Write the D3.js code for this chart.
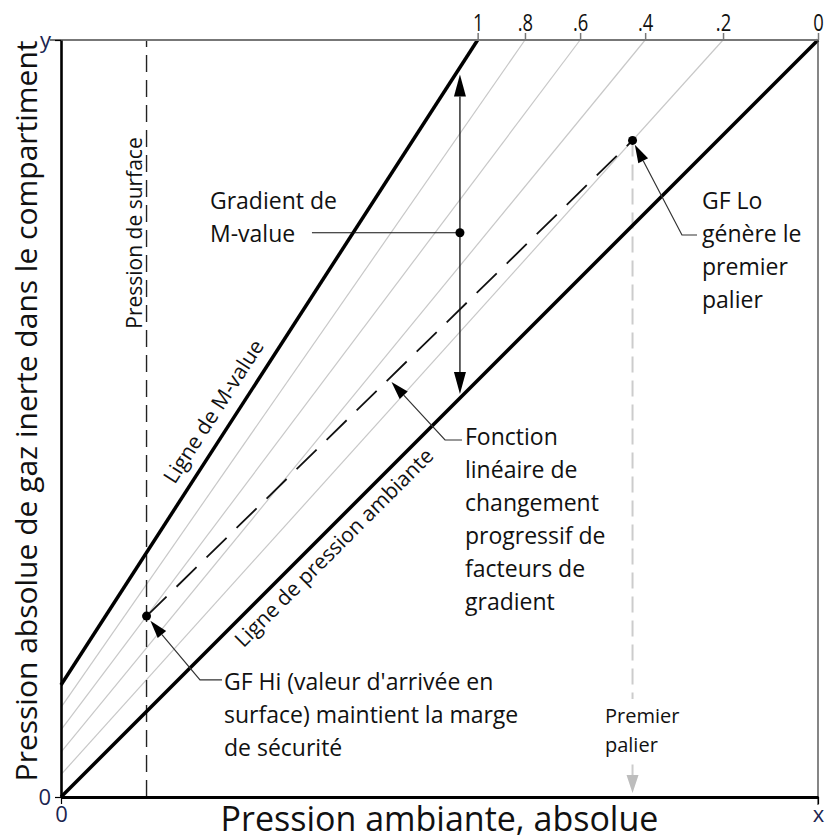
<!DOCTYPE html>
<html><head><meta charset="utf-8">
<script src="https://cdn.jsdelivr.net/npm/d3@7"></script>
<style>
body{margin:0;background:#fff}
svg{display:block}
text{font-family:"Open Sans",sans-serif}
</style>
</head><body>
<svg id="c" width="825" height="840"></svg>
<script>
// ---------------- data ----------------
const gfLevels = [1, 0.8, 0.6, 0.4, 0.2, 0];          // gradient factors shown on top axis
const gfLabels = ["1", ".8", ".6", ".4", ".2", "0"];
const greyLevels = [0.2, 0.4, 0.6, 0.8];              // intermediate GF lines
const mValueIntercept = 0.148;                        // M-value line at x = 0
const mValueSlope = 1.548;                            // M-value line slope
const surfaceX = 0.113;                               // surface pressure
const gfHi = 0.6;
const gfLo = 0.2;
const firstStopX = 0.755;                             // ambient pressure of first stop
const gradientX = 0.527;                              // where M-value gradient is shown
const leftTicks = [0, 1], leftTickLabels = ["0", "y"];
const bottomTicks = [0, 1], bottomTickLabels = ["0", "x"];
const xTitle = "Pression ambiante, absolue";
const yTitle = "Pression absolue de gaz inerte dans le compartiment";
const surfaceText = "Pression de surface";
const mLineText = "Ligne de M-value";
const ambientText = "Ligne de pression ambiante";
const gradientText = ["Gradient de", "M-value"];
const gfHiText = ["GF Hi (valeur d'arrivée en", "surface) maintient la marge", "de sécurité"];
const fonctionText = ["Fonction", "linéaire de", "changement", "progressif de", "facteurs de", "gradient"];
const gfLoText = ["GF Lo", "génère le", "premier", "palier"];
const firstStopText = ["Premier", "palier"];

// ---------------- setup ----------------
const svg = d3.select("#c");
const x = d3.scaleLinear().domain([0, 1]).range([61, 818]);
const y = d3.scaleLinear().domain([0, 1]).range([797, 40]);
const M = v => mValueIntercept + mValueSlope * v;
const gfY = (g, v) => v + g * (M(v) - v);
const topX = g => (1 - g * mValueIntercept) / (1 + g * (mValueSlope - 1));
const line = d3.line().x(d => x(d[0])).y(d => y(d[1]));
const P = d => [x(d[0]), y(d[1])];
const LABEL = "#1b2450";
const LH = 33;

function arrowHead(g, tip, from, len, wid, color) {
  const dx = tip[0] - from[0], dy = tip[1] - from[1];
  const L = Math.hypot(dx, dy), ux = dx / L, uy = dy / L;
  const bx = tip[0] - ux * len, by = tip[1] - uy * len;
  const px = -uy * wid / 2, py = ux * wid / 2;
  g.append("path")
    .attr("d", `M${tip[0]},${tip[1]}L${bx + px},${by + py}L${bx - px},${by - py}Z`)
    .attr("fill", color);
  return [bx, by];
}

// grey GF lines
svg.append("g").selectAll("path").data(greyLevels).join("path")
  .attr("d", g => line([[0, gfY(g, 0)], [topX(g), 1]]))
  .attr("fill", "none").attr("stroke", "#c8c8c8").attr("stroke-width", 1.2);

// surface pressure dashed line
svg.append("path").attr("d", line([[surfaceX, 0], [surfaceX, 1]]))
  .attr("fill", "none").attr("stroke", "#222").attr("stroke-width", 1.4)
  .attr("stroke-dasharray", "17,8");

// points
const hi = [surfaceX, gfY(gfHi, surfaceX)];
const lo = [firstStopX, gfY(gfLo, firstStopX)];

// first stop grey dashed line with arrow
const fs = svg.append("g");
const fsTip = [x(firstStopX), y(0) - 4];
const fsBase = arrowHead(fs, fsTip, [x(firstStopX), y(0) - 100], 18, 12, "#bdbdbd");
fs.insert("path", ":first-child")
  .attr("d", `M${x(lo[0])},${y(lo[1])}L${fsBase[0]},${fsBase[1]}`)
  .attr("stroke", "#cccccc").attr("stroke-width", 2).attr("stroke-dasharray", "16,8").attr("fill", "none");
const fsText = fs.append("g");
firstStopText.forEach((t, i) => {
  fsText.append("text").attr("x", x(0.7186)).attr("y", y(0.0978) + i * 29)
    .attr("font-size", 20).attr("fill", "#111").text(t);
});
const bb = fsText.node().getBBox();
fsText.insert("rect", ":first-child").attr("x", bb.x - 2).attr("y", bb.y - 3)
  .attr("width", bb.width + 4).attr("height", bb.height + 6).attr("fill", "#fff");

// M-value and ambient lines
svg.append("path").attr("d", line([[0, M(0)], [topX(1), 1]]))
  .attr("fill", "none").attr("stroke", "#000").attr("stroke-width", 3.5);
svg.append("path").attr("d", line([[0, 0], [1, 1]]))
  .attr("fill", "none").attr("stroke", "#000").attr("stroke-width", 3.5);

// top axis (gradient factors)
svg.append("line").attr("x1", x(0) - 11).attr("x2", x(1)).attr("y1", y(1)).attr("y2", y(1))
  .attr("stroke", "#777").attr("stroke-width", 2);
const topAxis = d3.axisTop(x).tickValues(gfLevels.map(topX))
  .tickFormat((d, i) => gfLabels[i]).tickSize(7).tickSizeOuter(0).tickPadding(2);
const ta = svg.append("g").attr("transform", `translate(0,${y(1)})`).call(topAxis);
ta.select(".domain").remove();
ta.selectAll(".tick line").attr("stroke", "#777").attr("stroke-width", 1.5);
ta.selectAll(".tick text").attr("font-family", "'Liberation Sans',Arial,sans-serif")
  .attr("font-size", 23).attr("fill", "#111").attr("transform", "scale(0.8,1)");

// right border
svg.append("line").attr("x1", x(1)).attr("x2", x(1)).attr("y1", y(1)).attr("y2", y(0) + 8)
  .attr("stroke", "#444").attr("stroke-width", 1.3);

// left axis
const la = svg.append("g").attr("transform", `translate(${x(0)},0)`)
  .call(d3.axisLeft(y).tickValues(leftTicks).tickFormat((d, i) => leftTickLabels[i]).tickSize(6).tickSizeOuter(0).tickPadding(4));
la.select(".domain").attr("stroke", "#000").attr("stroke-width", 2.6);
la.selectAll(".tick line").attr("stroke", "#000").attr("stroke-width", 1.2);
la.selectAll(".tick text").attr("font-family", "'Open Sans',sans-serif").attr("font-size", 22).attr("fill", LABEL);

// bottom axis
const ba = svg.append("g").attr("transform", `translate(0,${y(0)})`)
  .call(d3.axisBottom(x).tickValues(bottomTicks).tickFormat((d, i) => bottomTickLabels[i]).tickSize(7).tickSizeOuter(0).tickPadding(2));
ba.select(".domain").attr("stroke", "#000").attr("stroke-width", 2.8);
ba.selectAll(".tick line").attr("stroke", "#000").attr("stroke-width", 1.2);
ba.selectAll(".tick text").attr("font-family", "'Open Sans',sans-serif").attr("font-size", 22).attr("fill", LABEL);

// GF linear function dashed line
svg.append("path").attr("d", line([hi, lo]))
  .attr("fill", "none").attr("stroke", "#111").attr("stroke-width", 1.8).attr("stroke-dasharray", "28,14");

// M-value gradient double arrow
const ga = svg.append("g");
const gTop = [x(gradientX), y(M(gradientX)) + 7];
const gBot = [x(gradientX), y(gradientX) - 4];
const b1 = arrowHead(ga, gTop, gBot, 22, 12, "#000");
const b2 = arrowHead(ga, gBot, gTop, 22, 12, "#000");
ga.append("line").attr("x1", b1[0]).attr("y1", b1[1]).attr("x2", b2[0]).attr("y2", b2[1])
  .attr("stroke", "#111").attr("stroke-width", 1.3);
const gMid = [gradientX, (M(gradientX) + gradientX) / 2];
ga.append("line").attr("x1", x(0.3315)).attr("x2", x(gMid[0])).attr("y1", y(gMid[1])).attr("y2", y(gMid[1]))
  .attr("stroke", "#111").attr("stroke-width", 1.2);

// dots
svg.append("g").selectAll("circle").data([hi, lo, gMid]).join("circle")
  .attr("cx", d => x(d[0])).attr("cy", d => y(d[1])).attr("r", 4.5).attr("fill", "#000");

// leaders
function leader(target, elbow, textEndX, gap) {
  const t = P(target), e = P(elbow);
  const dx = e[0] - t[0], dy = e[1] - t[1], L = Math.hypot(dx, dy);
  const tip = [t[0] + dx / L * gap, t[1] + dy / L * gap];
  const g = svg.append("g");
  const base = arrowHead(g, tip, e, 18, 11, "#000");
  g.append("path").attr("d", `M${base[0]},${base[1]}L${e[0]},${e[1]}L${x(textEndX)},${e[1]}`)
    .attr("fill", "none").attr("stroke", "#333").attr("stroke-width", 1.2);
}
leader(hi, [0.1836, 0.1546], 0.2127, 6);
const fT = 0.433, fFrac = (fT - hi[0]) / (lo[0] - hi[0]);
leader([fT, hi[1] + fFrac * (lo[1] - hi[1])], [0.5073, 0.4716], 0.5297, 4);
leader(lo, [0.8203, 0.7424], 0.8402, 5);

// annotation text blocks
function block(lines, xd, yd, size) {
  const g = svg.append("g");
  lines.forEach((t, i) => g.append("text").attr("x", x(xd)).attr("y", y(yd) + i * LH)
    .attr("font-size", size).attr("fill", "#111").text(t));
}
block(gradientText, 0.1968, 0.7768, 23);
block(gfHiText, 0.2153, 0.1413, 23);
block(fonctionText, 0.5337, 0.465, 23);
block(gfLoText, 0.8468, 0.7768, 23);

// rotated line labels
const mAngle = Math.atan2(-mValueSlope, 1) * 180 / Math.PI;
const mFoot = P([0.224, M(0.224)]);
svg.append("text").attr("transform", `translate(${mFoot[0]},${mFoot[1]}) rotate(${mAngle})`)
  .attr("text-anchor", "middle").attr("dy", -13).attr("font-size", 21).attr("fill", "#111").text(mLineText);
const aFoot = P([0.345, 0.345]);
svg.append("text").attr("transform", `translate(${aFoot[0]},${aFoot[1]}) rotate(-45)`)
  .attr("text-anchor", "middle").attr("dy", 24).attr("font-size", 21).attr("fill", "#111").text(ambientText);
svg.append("text").attr("transform", `translate(${x(surfaceX) - 5},${y(0.745)}) rotate(-90)`)
  .attr("text-anchor", "middle").attr("font-size", 21).attr("fill", "#111").text(surfaceText);

// axis titles
svg.append("text").attr("x", x(0.5)).attr("y", 831).attr("text-anchor", "middle")
  .attr("font-size", 34).attr("fill", "#111").text(xTitle);
svg.append("text").attr("transform", `translate(37,${y(0.51)}) rotate(-90)`).attr("text-anchor", "middle")
  .attr("font-size", 30).attr("fill", "#111").text(yTitle);
</script>
</body></html>
